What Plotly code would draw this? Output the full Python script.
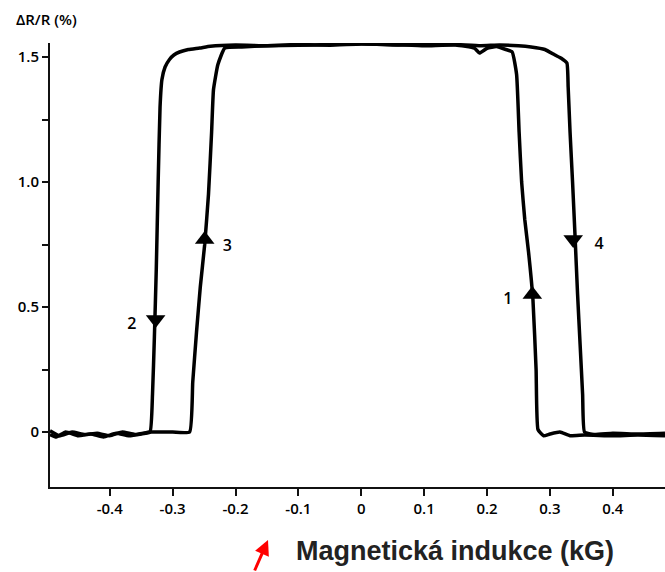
import plotly.graph_objects as go

# Upper path: right baseline -> outer right branch -> plateau -> outer left branch -> left baseline
upper_x = [0.483, 0.44, 0.40, 0.37, 0.355, 0.352, 0.348, 0.344, 0.340, 0.336, 0.332, 0.329, 0.327,
           0.318, 0.308, 0.292, 0.27, 0.25, 0.22, 0.19, 0.15, 0.10, 0.05, 0.0, -0.05, -0.10, -0.15,
           -0.20, -0.24, -0.257, -0.275, -0.289, -0.298, -0.305, -0.312, -0.317, -0.320, -0.323,
           -0.326, -0.329, -0.332, -0.336, -0.35, -0.37, -0.39, -0.41, -0.43, -0.45, -0.47, -0.485, -0.495]
upper_y = [-0.005, -0.008, -0.005, -0.01, 0.0, 0.15, 0.35, 0.55, 0.78, 1.0, 1.2, 1.38, 1.476,
           1.495, 1.508, 1.53, 1.54, 1.545, 1.548, 1.545, 1.55, 1.552, 1.548, 1.553, 1.55, 1.547,
           1.545, 1.548, 1.543, 1.536, 1.53, 1.52, 1.508, 1.49, 1.46, 1.41, 1.3, 1.0,
           0.65, 0.38, 0.15, 0.0, -0.008, -0.015, -0.005, -0.02, -0.008, -0.015, 0.0, -0.02, -0.01]

# Lower path: left baseline -> inner left branch -> plateau -> inner right branch -> right baseline
lower_x = [-0.495, -0.48, -0.46, -0.44, -0.42, -0.40, -0.38, -0.36, -0.336, -0.30, -0.273,
           -0.268, -0.262, -0.256, -0.249, -0.243, -0.238, -0.235, -0.228, -0.217, -0.19, -0.15,
           -0.10, -0.05, 0.0, 0.05, 0.10, 0.15, 0.18, 0.188, 0.20, 0.215, 0.23, 0.240, 0.247,
           0.251, 0.255, 0.260, 0.266, 0.273, 0.278, 0.281, 0.29, 0.30, 0.316, 0.332, 0.355,
           0.40, 0.44, 0.483]
lower_y = [0.005, -0.015, 0.0, -0.01, -0.005, -0.015, 0.0, -0.01, 0.0, 0.0, 0.0,
           0.2, 0.4, 0.58, 0.75, 0.95, 1.2, 1.37, 1.47, 1.536, 1.54, 1.545,
           1.55, 1.547, 1.552, 1.55, 1.545, 1.548, 1.535, 1.516, 1.535, 1.542, 1.53, 1.52, 1.43,
           1.2, 1.0, 0.85, 0.72, 0.53, 0.25, 0.01, -0.015, -0.008, 0.0, -0.015, -0.012,
           -0.015, -0.012, -0.015]

# Direction arrows and their labels
arrow_x = [0.272, -0.327, -0.249, 0.337]
arrow_y = [0.55, 0.45, 0.77, 0.77]
arrow_sym = ["triangle-up", "triangle-down", "triangle-up", "triangle-down"]
label_text = ["1", "2", "3", "4"]
label_x = [0.233, -0.365, -0.213, 0.378]
label_y = [0.53, 0.43, 0.74, 0.75]

y_tickvals = [0, 0.25, 0.5, 0.75, 1.0, 1.25, 1.5]
y_ticktext = ["0", "", "0.5", "", "1.0", "", "1.5"]
x_tickvals = [-0.4, -0.3, -0.2, -0.1, 0, 0.1, 0.2, 0.3, 0.4]
x_ticktext = ["-0.4", "-0.3", "-0.2", "-0.1", "0", "0.1", "0.2", "0.3", "0.4"]

fig = go.Figure()
for xs, ys in [(upper_x, upper_y), (lower_x, lower_y)]:
    fig.add_trace(go.Scatter(x=xs, y=ys, mode="lines",
                             line=dict(color="black", width=3.5, shape="spline", smoothing=0.4),
                             hoverinfo="skip"))
fig.add_trace(go.Scatter(x=arrow_x, y=arrow_y, mode="markers",
                         marker=dict(symbol=arrow_sym, size=17, color="black"),
                         hoverinfo="skip"))
fig.add_trace(go.Scatter(x=label_x, y=label_y, mode="text", text=label_text,
                         textfont=dict(family="Open Sans", size=16, color="black", weight=600),
                         hoverinfo="skip"))

fig.update_layout(
    width=665, height=572,
    margin=dict(l=50, r=0, t=43, b=85),
    paper_bgcolor="white", plot_bgcolor="white",
    showlegend=False,
    font=dict(family="Open Sans", color="black"),
)
fig.update_xaxes(range=[-0.495, 0.483], tickvals=x_tickvals, ticktext=x_ticktext,
                 showgrid=False, zeroline=False, showline=True, linecolor="#111", linewidth=2,
                 ticks="outside", ticklen=7, tickwidth=2, tickcolor="#111",
                 tickfont=dict(family="Open Sans", size=15, color="black", weight=600))
fig.update_yaxes(range=[-0.22, 1.556], tickvals=y_tickvals, ticktext=y_ticktext,
                 showgrid=False, zeroline=False, showline=True, linecolor="#111", linewidth=2,
                 ticks="outside", ticklen=6, tickwidth=2, tickcolor="#111",
                 tickfont=dict(family="Open Sans", size=15, color="black", weight=600))

fig.add_annotation(text="ΔR/R (%)", xref="paper", yref="paper",
                   x=(14 - 50) / 615, y=(487 - 19) / 444, xanchor="left", yanchor="middle",
                   showarrow=False, font=dict(family="Open Sans", size=15, color="black", weight=600))
fig.add_annotation(text="Magnetická indukce (kG)", xref="paper", yref="paper",
                   x=(455 - 50) / 615, y=(487 - 551) / 444, xanchor="center", yanchor="middle",
                   showarrow=False, font=dict(family="Liberation Sans", size=27, color="#222", weight="bold"))
fig.add_annotation(text="", xref="paper", yref="paper",
                   x=(268 - 50) / 615, y=(487 - 540) / 444, ax=-14, ay=32,
                   showarrow=True, arrowhead=2, arrowsize=1, arrowwidth=3, arrowcolor="red",
                   standoff=0)

fig.write_html("out.html")
